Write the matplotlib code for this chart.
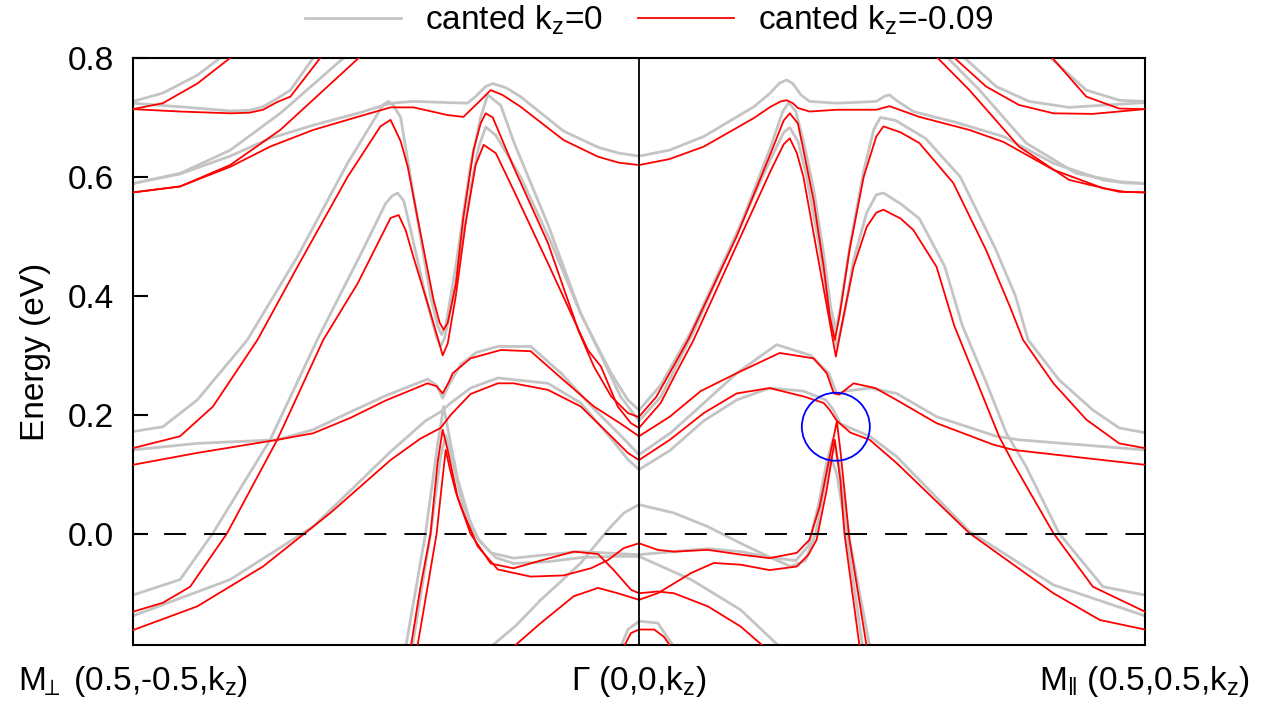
import matplotlib
matplotlib.use("Agg")
import matplotlib.pyplot as plt
from matplotlib.lines import Line2D
from matplotlib.patches import Ellipse

plt.rcParams["font.family"] = ["Liberation Sans", "DejaVu Sans"]
plt.rcParams["mathtext.fontset"] = "custom"
plt.rcParams["mathtext.rm"] = "Liberation Sans"
plt.rcParams["mathtext.it"] = "Liberation Sans"

# k-path coordinate: 0 = M_perp, 1 = Gamma, 2 = M_par ; energies in eV
xtick_pos = [0, 1, 2]
xtick_labels = [r"M$_{\!\!\perp}$ (0.5,-0.5,k$_\mathrm{z}$)", r"$\Gamma$ (0,0,k$_\mathrm{z}$)",
                r"M$_\|$ (0.5,0.5,k$_\mathrm{z}$)"]
ytick_pos = [0.0, 0.2, 0.4, 0.6, 0.8]
legend_labels = [r"canted k$_\mathrm{z}$=0", r"canted k$_\mathrm{z}$=-0.09"]

# ---- kz = 0 bands (grey) ----
g_l1 = [(0, .727), (.059, .741), (.127, .771), (.172, .800), (.215, .830)]
g_l2 = [(0, .724), (.093, .718), (.192, .711), (.230, .712), (.257, .718), (.285, .732), (.311, .746),
        (.356, .800), (.380, .830)]
g_l3 = [(0, .589), (.093, .606), (.192, .645), (.291, .707), (.416, .800), (.450, .830)]
g_top = [(0, .589), (.093, .605), (.192, .635), (.271, .665), (.356, .687), (.444, .707), (.509, .724),
         (.554, .727), (.661, .724), (.677, .735), (.697, .752), (.711, .757), (.737, .750), (.766, .735),
         (.851, .677), (.919, .650), (.960, .640), (1.0, .635), (1.060, .645), (1.128, .668), (1.227, .718),
         (1.258, .740), (1.278, .758), (1.292, .763), (1.304, .757), (1.320, .738), (1.337, .727),
         (1.391, .724), (1.469, .727), (1.486, .736), (1.495, .738), (1.510, .728), (1.542, .710),
         (1.621, .693), (1.720, .668), (1.819, .623), (1.917, .595), (1.960, .590), (2.0, .589)]
g_corner = [(1.775, .830), (1.811, .802), (1.884, .746), (1.949, .729), (2.0, .727)]
g_rs1 = [(1.590, .830), (1.608, .802), (1.673, .746), (1.765, .657), (1.864, .606), (1.949, .592), (2.0, .589)]
g_rs2 = [(1.625, .830), (1.641, .802), (1.706, .752), (1.771, .727), (1.850, .717), (2.0, .725)]
g_lv1 = [(0, .172), (.059, .180), (.127, .225), (.226, .326), (.325, .466), (.424, .623), (.479, .700),
         (.495, .722), (.505, .727), (.515, .720), (.529, .700), (.558, .550), (.588, .400), (.602, .350),
         (.610, .335), (.618, .350), (.638, .450), (.667, .620), (.687, .700), (.701, .738), (.727, .720),
         (.752, .660), (.820, .520), (.885, .370), (.911, .326), (.945, .270), (.978, .225), (1.0, .208)]
g_lv2 = [(0, -.103), (.093, -.077), (.158, .001), (.271, .158), (.364, .326), (.450, .470), (.499, .555),
         (.512, .568), (.523, .573), (.535, .560), (.549, .510), (.578, .400), (.600, .330), (.608, .315),
         (.616, .330), (.638, .420), (.667, .580), (.683, .650), (.697, .684), (.717, .670), (.766, .600),
         (.826, .490), (.885, .370), (.925, .300), (.964, .230), (1.0, .190)]
g_g = [(0, .141), (.127, .152), (.285, .158), (.356, .175), (.430, .205), (.499, .232), (.582, .260),
       (.600, .250), (.612, .228), (.624, .250), (.648, .285), (.679, .305), (.721, .315), (.786, .315),
       (.846, .270), (.911, .210), (.964, .165), (1.0, .133)]
g_h = [(0, -.138), (.192, -.077), (.356, .012), (.509, .138), (.578, .190), (.608, .205), (.628, .220),
       (.667, .245), (.721, .262), (.820, .253), (.885, .220), (.945, .160), (.978, .125), (1.0, .108)]
g_u = [(.539, -.19), (.578, .0), (.602, .150), (.614, .214), (.628, .150), (.642, .091), (.673, .0),
       (.707, -.032), (.752, -.041), (.820, -.035), (.885, -.030), (.950, -.033), (1.0, -.035),
       (1.069, -.030), (1.136, -.025), (1.201, -.030), (1.260, -.040), (1.310, -.045), (1.335, -.020),
       (1.355, .050), (1.371, .120), (1.383, .158), (1.394, .120), (1.414, .0), (1.456, -.19)]
g_w = [(.552, -.19), (.588, .0), (.608, .130), (.618, .165), (.632, .120), (.651, .050), (.683, -.010),
       (.717, -.040), (.752, -.050), (.820, -.047), (.885, -.040), (.950, -.038), (1.0, -.038),
       (1.103, -.077), (1.201, -.128), (1.278, -.19)]
g_t = [(.707, -.19), (.756, -.155), (.806, -.111), (.846, -.080), (.885, -.049), (.939, .007), (.970, .035),
       (1.0, .049), (1.069, .035), (1.136, .012), (1.201, -.016), (1.260, -.040), (1.300, -.055),
       (1.329, -.045), (1.349, .0), (1.367, .080), (1.379, .130), (1.391, .100), (1.410, .0), (1.442, -.19)]
g_arc = [(.964, -.19), (.978, -.161), (1.0, -.147), (1.037, -.150), (1.069, -.19)]
g_rv1 = [(1.0, .208), (1.043, .250), (1.103, .340), (1.201, .520), (1.260, .650), (1.284, .710), (1.296, .725),
         (1.310, .710), (1.325, .660), (1.345, .580), (1.365, .470), (1.379, .380), (1.389, .343),
         (1.398, .380), (1.418, .490), (1.444, .610), (1.464, .680), (1.477, .700), (1.507, .695),
         (1.566, .665), (1.635, .600), (1.704, .480), (1.744, .400), (1.769, .326), (1.830, .259),
         (1.897, .208), (1.949, .178), (2.0, .170)]
g_rv2 = [(1.0, .190), (1.043, .230), (1.108, .340), (1.201, .520), (1.260, .630), (1.286, .675), (1.298, .683),
         (1.314, .660), (1.329, .610), (1.355, .490), (1.377, .370), (1.391, .315), (1.406, .370),
         (1.424, .460), (1.450, .540), (1.469, .570), (1.483, .573), (1.517, .555), (1.554, .530),
         (1.604, .450), (1.639, .350), (1.686, .255), (1.726, .169), (1.765, .113), (1.830, .001),
         (1.917, -.089), (2.0, -.103)]
g_g2 = [(1.0, .133), (1.063, .170), (1.122, .215), (1.193, .270), (1.272, .318), (1.339, .300), (1.375, .270),
        (1.391, .235), (1.408, .240), (1.458, .245), (1.509, .236), (1.588, .197), (1.706, .164),
        (1.751, .158), (2.0, .141)]
g_hr = [(1.0, .108), (1.061, .140), (1.128, .190), (1.193, .225), (1.258, .245), (1.325, .240), (1.369, .225),
        (1.383, .210), (1.398, .185), (1.456, .164), (1.509, .130), (1.653, .004), (1.819, -.086),
        (2.0, -.138)]

# ---- kz = -0.09 bands (red) ----
r_l1 = [(0, .714), (.059, .724), (.127, .757), (.192, .800), (.225, .830)]
r_l2 = [(0, .714), (.093, .710), (.192, .707), (.230, .708), (.257, .713), (.285, .726), (.311, .735),
        (.370, .800), (.396, .830)]
r_l3 = [(0, .574), (.093, .584), (.192, .620), (.291, .679), (.446, .800), (.479, .830)]
r_top = [(0, .574), (.093, .584), (.192, .617), (.271, .651), (.356, .679), (.444, .701), (.509, .717),
         (.554, .717), (.622, .704), (.653, .701), (.681, .724), (.707, .746), (.730, .738), (.766, .718),
         (.851, .662), (.919, .634), (.960, .624), (1.0, .620), (1.060, .630), (1.128, .651), (1.227, .699),
         (1.260, .718), (1.280, .727), (1.292, .729), (1.304, .724), (1.314, .716), (1.337, .710),
         (1.391, .713), (1.469, .713), (1.495, .719), (1.554, .701), (1.653, .679), (1.720, .659),
         (1.819, .612), (1.917, .581), (1.960, .575), (2.0, .574)]
r_corner = [(1.786, .830), (1.815, .802), (1.884, .735), (1.949, .715), (2.0, .714)]
r_rs1 = [(1.570, .830), (1.588, .802), (1.653, .746), (1.751, .651), (1.850, .595), (1.949, .575), (2.0, .574)]
r_rs2 = [(1.605, .830), (1.621, .802), (1.686, .752), (1.751, .721), (1.819, .707), (1.897, .706), (2.0, .714)]
r_lv1 = [(0, .144), (.093, .164), (.158, .214), (.246, .326), (.325, .449), (.424, .600), (.489, .685),
         (.509, .696), (.529, .660), (.543, .617), (.568, .506), (.594, .393), (.606, .355), (.614, .343),
         (.622, .355), (.638, .420), (.653, .533), (.673, .645), (.687, .690), (.697, .707), (.711, .700),
         (.752, .617), (.820, .489), (.881, .340), (.911, .281), (.945, .231), (.978, .203), (1.0, .196)]
r_lv2 = [(0, -.131), (.059, -.116), (.113, -.089), (.186, .001), (.285, .158), (.376, .326), (.444, .421),
         (.509, .531), (.525, .536), (.539, .510), (.554, .466), (.582, .388), (.602, .330), (.612, .300),
         (.622, .320), (.638, .400), (.657, .520), (.677, .620), (.693, .654), (.717, .640), (.752, .578),
         (.820, .455), (.899, .309), (.925, .281), (.958, .214), (.984, .186), (1.0, .178)]
r_g = [(0, .116), (.127, .136), (.285, .158), (.356, .169), (.430, .195), (.499, .224), (.582, .253),
       (.600, .248), (.612, .236), (.624, .255), (.632, .270), (.667, .295), (.727, .309), (.786, .307),
       (.846, .262), (.911, .214), (.964, .185), (1.0, .164)]
r_h = [(0, -.162), (.127, -.122), (.257, -.055), (.390, .035), (.509, .124), (.568, .160), (.608, .178),
       (.628, .200), (.667, .235), (.721, .253), (.752, .253), (.820, .242), (.885, .214), (.945, .164),
       (.978, .136), (1.0, .124)]
r_pa = [(.549, -.19), (.568, -.09), (.588, .0), (.602, .120), (.612, .175), (.622, .140), (.632, .100),
        (.642, .060), (.667, .0), (.707, -.050), (.752, -.058), (.806, -.045), (.871, -.030), (.919, -.034),
        (.950, -.061), (.984, -.094), (1.0, -.100), (1.037, -.097), (1.069, -.100), (1.136, -.122),
        (1.201, -.156), (1.247, -.19)]
r_qb = [(.562, -.19), (.582, -.09), (.600, .0), (.610, .080), (.618, .141), (.626, .110), (.638, .070),
        (.648, .046), (.681, -.021), (.721, -.060), (.786, -.072), (.851, -.070), (.905, -.058),
        (.939, -.044), (.970, -.024), (1.0, -.016), (1.037, -.027), (1.069, -.030), (1.136, -.027),
        (1.201, -.035), (1.258, -.041), (1.312, -.032), (1.337, -.010), (1.357, .046), (1.377, .130),
        (1.391, .189), (1.398, .140), (1.416, -.010), (1.450, -.19)]
r_c = [(.752, -.19), (.806, -.150), (.871, -.105), (.919, -.091), (.958, -.100), (1.0, -.111), (1.037, -.100),
       (1.103, -.066), (1.148, -.049), (1.201, -.052), (1.258, -.061), (1.312, -.055), (1.335, -.035),
       (1.351, -.010), (1.371, .074), (1.387, .158), (1.398, .090), (1.406, .0), (1.436, -.19)]
r_arc = [(.970, -.19), (.984, -.167), (1.0, -.161), (1.030, -.161), (1.049, -.173), (1.063, -.19)]
r_rv1 = [(1.0, .197), (1.034, .230), (1.067, .280), (1.097, .326), (1.193, .500), (1.258, .635), (1.286, .695),
         (1.298, .707), (1.314, .690), (1.325, .645), (1.345, .561), (1.365, .449), (1.377, .365),
         (1.387, .326), (1.396, .365), (1.416, .477), (1.444, .600), (1.469, .668), (1.483, .685),
         (1.517, .675), (1.554, .657), (1.621, .590), (1.686, .477), (1.734, .380), (1.759, .326),
         (1.819, .253), (1.884, .192), (1.949, .152), (2.0, .144)]
r_rv2 = [(1.0, .178), (1.043, .220), (1.073, .270), (1.108, .326), (1.201, .500), (1.260, .610), (1.286, .655),
         (1.298, .665), (1.312, .640), (1.325, .600), (1.351, .477), (1.375, .365), (1.389, .298),
         (1.404, .365), (1.424, .449), (1.450, .516), (1.469, .540), (1.483, .545), (1.517, .530),
         (1.542, .511), (1.588, .449), (1.623, .350), (1.673, .245), (1.712, .163), (1.740, .118),
         (1.819, .001), (1.897, -.089), (2.0, -.131)]
r_g2 = [(1.0, .164), (1.061, .197), (1.122, .240), (1.193, .270), (1.278, .304), (1.345, .295), (1.371, .270),
        (1.385, .236), (1.396, .234), (1.424, .253), (1.467, .245), (1.509, .225), (1.588, .186),
        (1.700, .150), (1.740, .141), (2.0, .116)]
r_hr = [(1.0, .124), (1.061, .158), (1.128, .203), (1.193, .236), (1.258, .245), (1.325, .231), (1.365, .220),
        (1.377, .208), (1.391, .190), (1.418, .170), (1.456, .158), (1.509, .119), (1.653, .001),
        (1.819, -.100), (1.911, -.145), (2.0, -.161)]

grey_bands = [g_l1, g_l2, g_l3, g_top, g_corner, g_rs1, g_rs2, g_lv1, g_lv2, g_g, g_h, g_u, g_w, g_t,
              g_arc, g_rv1, g_rv2, g_g2, g_hr]
red_bands = [r_l1, r_l2, r_l3, r_top, r_corner, r_rs1, r_rs2, r_lv1, r_lv2, r_g, r_h, r_pa, r_qb, r_c,
             r_arc, r_rv1, r_rv2, r_g2, r_hr]

grey = "#c4c4c4"
red = "#ff0000"

fig = plt.figure(figsize=(12.7, 7.11), dpi=100)
ax = fig.add_axes([133 / 1270, 1 - 645 / 711, 1012 / 1270, 587 / 711])

for band in grey_bands:
    k, e = zip(*band)
    ax.plot(k, e, color=grey, lw=2.0, zorder=2, solid_joinstyle="round")
for band in red_bands:
    k, e = zip(*band)
    ax.plot(k, e, color=red, lw=1.3, zorder=3, solid_joinstyle="round")

ax.axvline(1.0, color="black", lw=1.3, zorder=4)
ax.axhline(0.0, color="black", lw=1.4, ls=(4.6, (11.3, 9.3)), zorder=4)

# highlighted crossing region
ax.add_patch(Ellipse((1.389, 0.180), width=2 * 34 / 506, height=2 * 34 / 595,
                     fill=False, ec="blue", lw=1.3, zorder=5))

ax.set_xlim(0, 2)
ax.set_ylim(-0.187, 0.8)
ax.set_xticks(xtick_pos)
ax.set_xticklabels(xtick_labels)
ax.set_yticks(ytick_pos)
ax.set_yticklabels([f"{v:.1f}" for v in ytick_pos])
ax.tick_params(axis="y", direction="in", length=11, width=1.5, labelsize=24, pad=14)
ax.tick_params(axis="x", length=0, labelsize=24, pad=14)
for s in ax.spines.values():
    s.set_linewidth(1.5)
ax.set_ylabel("Energy (eV)", fontsize=24, labelpad=12)

handles = [Line2D([], [], color=grey, lw=2.0), Line2D([], [], color=red, lw=1.3)]
fig.legend(handles, legend_labels, loc="center", bbox_to_anchor=(0.511, 0.972), ncol=2,
           frameon=False, fontsize=24, handlelength=2.88, handletextpad=0.72, columnspacing=1.08)

fig.savefig("out.png", dpi=100)
